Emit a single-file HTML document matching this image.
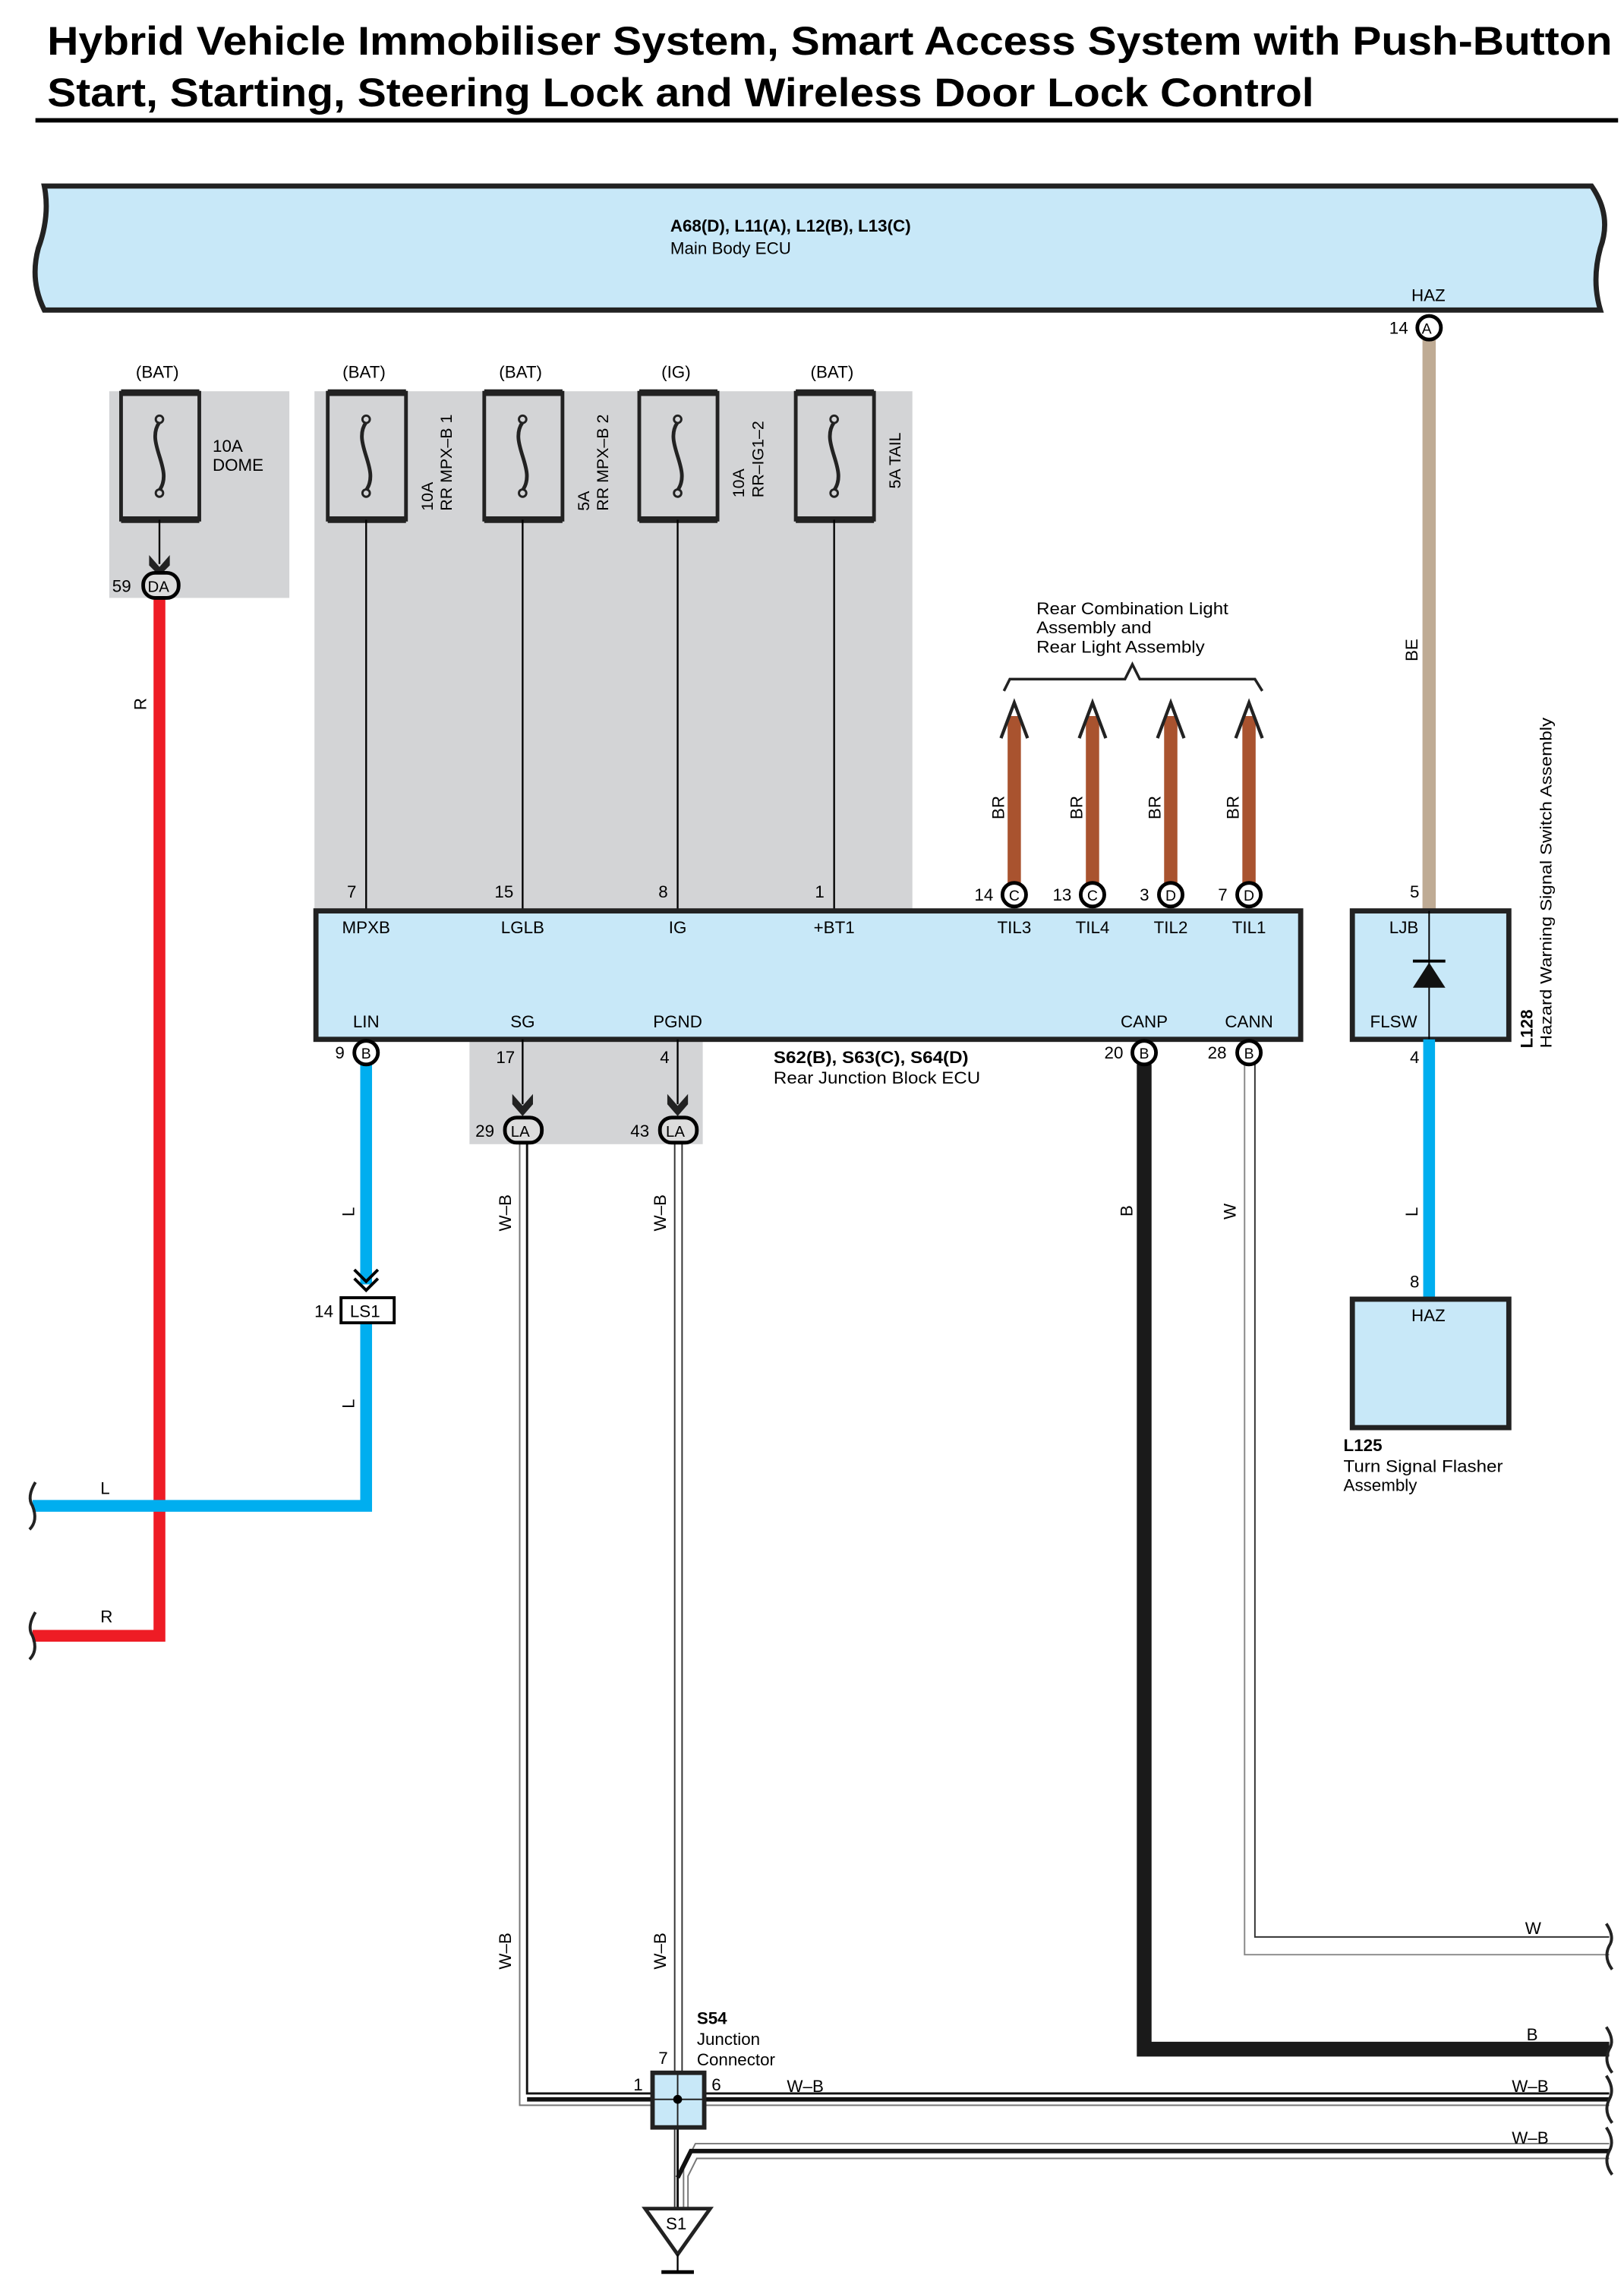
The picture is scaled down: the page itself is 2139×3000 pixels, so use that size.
<!DOCTYPE html>
<html><head><meta charset="utf-8"><style>html,body{margin:0;padding:0;background:#fff}svg{display:block}text{font-family:"Liberation Sans",sans-serif}</style></head><body>
<svg width="2139" height="3000" viewBox="0 0 1100 1543" preserveAspectRatio="none" xmlns="http://www.w3.org/2000/svg">
<g font-size="11.5" fill="#000">
<text x="32" y="37" font-size="27" font-weight="bold" textLength="1060" lengthAdjust="spacingAndGlyphs">Hybrid Vehicle Immobiliser System, Smart Access System with Push-Button</text>
<text x="32" y="72" font-size="27" font-weight="bold" textLength="858" lengthAdjust="spacingAndGlyphs">Start, Starting, Steering Lock and Wireless Door Lock Control</text>
<rect x="24" y="80" width="1072" height="3"/>
<!-- main ECU -->
<path d="M30,126 L1078,126 Q1092,146 1084,168 Q1078,190 1084,210 L30,210 Q20,190 26,168 Q34,146 30,126 Z" fill="#c8e8f8" stroke="#222" stroke-width="3.5"/>
<text x="454" y="157" font-weight="bold">A68(D), L11(A), L12(B), L13(C)</text>
<text x="454" y="172">Main Body ECU</text>
<text x="956" y="204">HAZ</text>
<!-- gray areas -->
<rect x="74" y="265" width="122" height="140" fill="#d3d4d6"/>
<rect x="213" y="265" width="405" height="352" fill="#d3d4d6"/>
<rect x="318" y="704" width="158" height="71" fill="#d3d4d6"/>
<!-- BE wire -->
<line x1="968" y1="230" x2="968" y2="617" stroke="#bfab94" stroke-width="9"/>
<text transform="translate(960,448) rotate(-90)">BE</text>
<circle cx="968" cy="222" r="8" fill="#fff" stroke="#000" stroke-width="2.5"/><text x="963" y="226" font-size="10">A</text><text x="941" y="226">14</text>
<!-- fuses -->
<g fill="none" stroke="#222">
<g id="f"><rect x="82" y="266" width="53" height="86" stroke-width="2.5"/><line x1="82" y1="266" x2="135" y2="266" stroke-width="4.5"/><line x1="82" y1="352" x2="135" y2="352" stroke-width="4.5"/><path d="M108,286 C98,300 118,318 108,332" stroke-width="2.5"/><circle cx="108" cy="284" r="2.5" stroke-width="1.5"/><circle cx="108" cy="334" r="2.5" stroke-width="1.5"/></g>
<use href="#f" x="140"/><use href="#f" x="246"/><use href="#f" x="351"/><use href="#f" x="457"/>
</g>
<text x="92" y="256">(BAT)</text><text x="232" y="256">(BAT)</text><text x="338" y="256">(BAT)</text><text x="448" y="256">(IG)</text><text x="549" y="256">(BAT)</text>
<text x="144" y="306">10A</text><text x="144" y="319">DOME</text>
<g font-size="11"><text transform="translate(293,346) rotate(-90)">10A</text><text transform="translate(306,346) rotate(-90)">RR MPX–B 1</text>
<text transform="translate(399,346) rotate(-90)">5A</text><text transform="translate(412,346) rotate(-90)">RR MPX–B 2</text>
<text transform="translate(504,337) rotate(-90)">10A</text><text transform="translate(517,337) rotate(-90)">RR–IG1–2</text>
<text transform="translate(610,331) rotate(-90)">5A TAIL</text></g>
<!-- dome drop -->
<line x1="108" y1="352" x2="108" y2="382" stroke="#000" stroke-width="1.2"/>
<path d="M101,376 L108,384 L115,376 L115,383 L108,390 L101,383Z" fill="#222"/>
<!-- red wire -->
<path d="M108,405 L108,1108 L22,1108" fill="none" stroke="#ee1c25" stroke-width="8"/>
<rect x="97" y="388" width="24" height="17" rx="8" fill="#ddd" stroke="#000" stroke-width="2.5"/><text x="100" y="401" font-size="10.5">DA</text><text x="76" y="401">59</text>
<text transform="translate(99,481) rotate(-90)">R</text><text x="68" y="1099">R</text>
<!-- thin lines -->
<g stroke="#000" stroke-width="1.2"><line x1="248" y1="352" x2="248" y2="617"/><line x1="354" y1="352" x2="354" y2="617"/><line x1="459" y1="352" x2="459" y2="617"/><line x1="565" y1="352" x2="565" y2="617"/></g>
<text x="235" y="608">7</text><text x="335" y="608">15</text><text x="446" y="608">8</text><text x="552" y="608">1</text>
<!-- brown wires -->
<g stroke="#a9532f" stroke-width="9"><line x1="687" y1="485" x2="687" y2="600"/><line x1="740" y1="485" x2="740" y2="600"/><line x1="793" y1="485" x2="793" y2="600"/><line x1="846" y1="485" x2="846" y2="600"/></g>
<g fill="none" stroke="#222" stroke-width="2.2"><path d="M678,500 L687,476 L696,500"/><path d="M731,500 L740,476 L749,500"/><path d="M784,500 L793,476 L802,500"/><path d="M837,500 L846,476 L855,500"/>
<path d="M680,468 L684,460 L762,460 L767,450 L772,460 L850,460 L855,468" stroke-width="1.8"/></g>
<g textLength="130" lengthAdjust="spacingAndGlyphs"><text x="702" y="416" textLength="130" lengthAdjust="spacingAndGlyphs">Rear Combination Light</text><text x="702" y="429" textLength="78" lengthAdjust="spacingAndGlyphs">Assembly and</text><text x="702" y="442" textLength="114" lengthAdjust="spacingAndGlyphs">Rear Light Assembly</text></g>
<text transform="translate(680,555) rotate(-90)">BR</text><text transform="translate(733,555) rotate(-90)">BR</text><text transform="translate(786,555) rotate(-90)">BR</text><text transform="translate(839,555) rotate(-90)">BR</text>
<!-- rear JB ECU -->
<rect x="214" y="617" width="667" height="87" fill="#c8e8f8" stroke="#222" stroke-width="3.5"/>
<g text-anchor="middle"><text x="248" y="632">MPXB</text><text x="354" y="632">LGLB</text><text x="459" y="632">IG</text><text x="565" y="632">+BT1</text><text x="687" y="632">TIL3</text><text x="740" y="632">TIL4</text><text x="793" y="632">TIL2</text><text x="846" y="632">TIL1</text>
<text x="248" y="696">LIN</text><text x="354" y="696">SG</text><text x="459" y="696">PGND</text><text x="775" y="696">CANP</text><text x="846" y="696">CANN</text></g>
<text x="524" y="720" font-weight="bold" textLength="132" lengthAdjust="spacingAndGlyphs">S62(B), S63(C), S64(D)</text><text x="524" y="734" textLength="140" lengthAdjust="spacingAndGlyphs">Rear Junction Block ECU</text>
<!-- top connectors -->
<g fill="#fff" stroke="#000" stroke-width="2.5"><circle cx="687" cy="606" r="8"/><circle cx="740" cy="606" r="8"/><circle cx="793" cy="606" r="8"/><circle cx="846" cy="606" r="8"/></g>
<g font-size="10" text-anchor="middle"><text x="687" y="610">C</text><text x="740" y="610">C</text><text x="793" y="610">D</text><text x="846" y="610">D</text></g>
<text x="660" y="610">14</text><text x="713" y="610">13</text><text x="772" y="610">3</text><text x="825" y="610">7</text>
<!-- W wire -->
<path d="M843,721 L843,1324 L1090,1324" fill="none" stroke="#888" stroke-width="1"/>
<path d="M850,721 L850,1312 L1090,1312" fill="none" stroke="#333" stroke-width="1"/>
<text transform="translate(837,826) rotate(-90)">W</text><text x="1033" y="1310">W</text>
<!-- B wire -->
<path d="M775,721 L775,1388 L1090,1388" fill="none" stroke="#1a1a1a" stroke-width="10"/>
<text transform="translate(767,824) rotate(-90)">B</text><text x="1034" y="1382">B</text>
<!-- blue LIN -->
<path d="M248,721 L248,870 M248,896 L248,1020 L22,1020" fill="none" stroke="#00aeef" stroke-width="8"/>
<path d="M240,860 L248,868 L256,860 M240,866 L248,874 L256,866" fill="none" stroke="#000" stroke-width="2"/>
<rect x="231" y="879" width="36" height="17" fill="#fff" stroke="#000" stroke-width="2"/><text x="237" y="892">LS1</text><text x="213" y="892">14</text>
<text transform="translate(240,824) rotate(-90)">L</text><text transform="translate(240,954) rotate(-90)">L</text><text x="68" y="1012">L</text>
<!-- SG/PGND drops -->
<line x1="354" y1="704" x2="354" y2="748" stroke="#000" stroke-width="1.2"/><line x1="459" y1="704" x2="459" y2="748" stroke="#000" stroke-width="1.2"/>
<path d="M347,741 L354,749 L361,741 L361,748 L354,756 L347,748Z" fill="#222"/><path d="M452,741 L459,749 L466,741 L466,748 L459,756 L452,748Z" fill="#222"/>
<text x="336" y="720">17</text><text x="447" y="720">4</text>
<!-- W-B wires -->
<path d="M352,773 L352,1426 L1090,1426" fill="none" stroke="#777" stroke-width="1"/>
<path d="M357,773 L357,1418 L1090,1418" fill="none" stroke="#111" stroke-width="1.5"/>
<line x1="357" y1="1422" x2="1090" y2="1422" stroke="#111" stroke-width="3"/>
<path d="M457,773 L457,1496 M462,773 L462,1404" fill="none" stroke="#333" stroke-width="1"/>
<path d="M1090,1452 L471,1452 L463,1468 L463,1496" fill="none" stroke="#777" stroke-width="1"/>
<path d="M1090,1457 L468,1457 L459,1475" fill="none" stroke="#111" stroke-width="3"/>
<path d="M1090,1462 L472,1462 L466,1474 L466,1496" fill="none" stroke="#777" stroke-width="1"/>
<line x1="459" y1="1441" x2="459" y2="1496" stroke="#111" stroke-width="1.5"/>
<text transform="translate(346,834) rotate(-90)">W–B</text><text transform="translate(451,834) rotate(-90)">W–B</text>
<text transform="translate(346,1334) rotate(-90)">W–B</text><text transform="translate(451,1334) rotate(-90)">W–B</text>
<text x="533" y="1417">W–B</text><text x="1024" y="1417">W–B</text><text x="1024" y="1452">W–B</text>
<!-- LA connectors -->
<rect x="342" y="757" width="25" height="17" rx="8" fill="#ddd" stroke="#000" stroke-width="2.5"/><text x="346" y="770" font-size="10.5">LA</text><text x="322" y="770">29</text>
<rect x="447" y="757" width="25" height="17" rx="8" fill="#ddd" stroke="#000" stroke-width="2.5"/><text x="451" y="770" font-size="10.5">LA</text><text x="427" y="770">43</text>
<!-- bottom connectors -->
<g fill="#fff" stroke="#000" stroke-width="2.5"><circle cx="248" cy="713" r="8"/><circle cx="775" cy="713" r="8"/><circle cx="846" cy="713" r="8"/></g>
<g font-size="10" text-anchor="middle"><text x="248" y="717">B</text><text x="775" y="717">B</text><text x="846" y="717">B</text></g>
<text x="227" y="717">9</text><text x="748" y="717">20</text><text x="818" y="717">28</text>
<!-- S54 -->
<rect x="442" y="1404" width="35" height="37" fill="#c8e8f8" stroke="#222" stroke-width="3"/>
<line x1="459" y1="1404" x2="459" y2="1441" stroke="#222" stroke-width="1"/><line x1="442" y1="1422" x2="477" y2="1422" stroke="#222" stroke-width="1"/>
<circle cx="459" cy="1422" r="3" fill="#000"/>
<text x="472" y="1371" font-weight="bold">S54</text><text x="472" y="1385">Junction</text><text x="472" y="1399">Connector</text>
<text x="446" y="1398">7</text><text x="429" y="1416">1</text><text x="482" y="1416">6</text>
<!-- ground -->
<path d="M437,1496 L481,1496 L459,1527Z" fill="#fff" stroke="#222" stroke-width="2.5"/><text x="451" y="1510">S1</text>
<line x1="459" y1="1527" x2="459" y2="1538" stroke="#000" stroke-width="1.2"/>
<g stroke="#000" stroke-width="2.5"><line x1="448" y1="1539" x2="470" y2="1539"/><line x1="452" y1="1545" x2="466" y2="1545"/><line x1="455" y1="1551" x2="463" y2="1551"/></g>
<!-- break marks -->
<g fill="none" stroke="#222" stroke-width="2">
<path d="M24,1004 Q18,1014 22,1020 Q26,1030 20,1036"/><path d="M24,1092 Q18,1102 22,1108 Q26,1118 20,1124"/>
<path d="M1088,1303 Q1094,1312 1090,1318 Q1086,1326 1092,1334"/><path d="M1088,1373 Q1094,1382 1090,1388 Q1086,1396 1092,1404"/>
<path d="M1088,1406 Q1094,1415 1090,1422 Q1086,1430 1092,1438"/><path d="M1088,1441 Q1094,1450 1090,1457 Q1086,1465 1092,1473"/></g>
<!-- hazard switch -->
<rect x="916" y="617" width="106" height="87" fill="#c8e8f8" stroke="#222" stroke-width="3.5"/>
<line x1="968" y1="617" x2="968" y2="704" stroke="#000" stroke-width="1"/>
<path d="M957,669 L979,669 L968,652Z" fill="#111"/><line x1="957" y1="651" x2="979" y2="651" stroke="#000" stroke-width="2"/>
<text x="941" y="632">LJB</text><text x="928" y="696">FLSW</text>
<text x="955" y="608">5</text><text x="955" y="720">4</text>
<line x1="968" y1="704" x2="968" y2="880" stroke="#00aeef" stroke-width="8"/>
<text transform="translate(960,824) rotate(-90)">L</text><text x="955" y="872">8</text>
<rect x="916" y="880" width="106" height="87" fill="#c8e8f8" stroke="#222" stroke-width="3.5"/>
<text x="956" y="895">HAZ</text>
<text x="910" y="983" font-weight="bold">L125</text><text x="910" y="997" textLength="108" lengthAdjust="spacingAndGlyphs">Turn Signal Flasher</text><text x="910" y="1010">Assembly</text>
<text transform="translate(1038,710) rotate(-90)" font-weight="bold">L128</text>
<text transform="translate(1051,710) rotate(-90)" font-size="11" textLength="224" lengthAdjust="spacingAndGlyphs">Hazard Warning Signal Switch Assembly</text>
</g>
</svg>
</body></html>
